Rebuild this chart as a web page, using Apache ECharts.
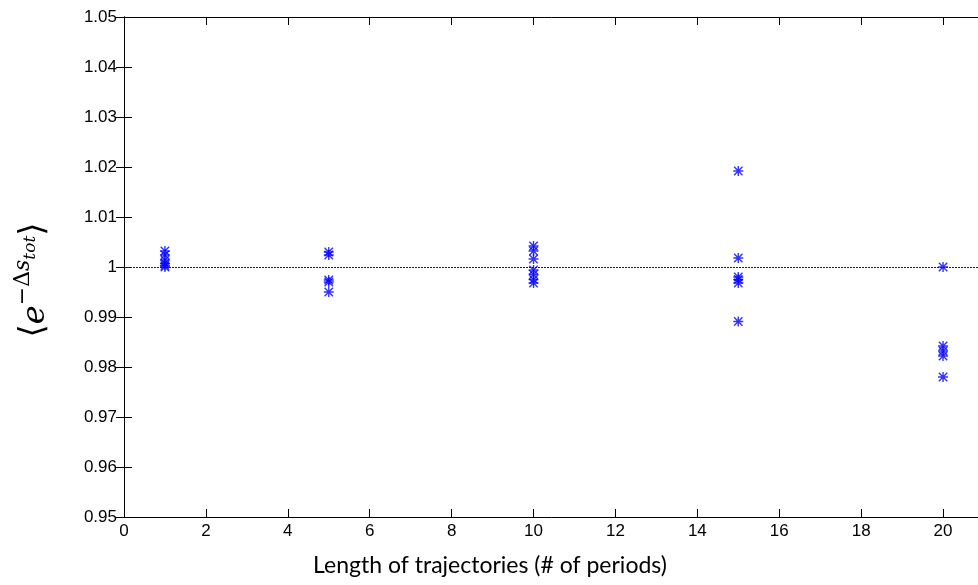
<!DOCTYPE html>
<html><head><meta charset="utf-8">
<script src="https://cdn.jsdelivr.net/npm/echarts@6/dist/echarts.min.js"></script>
<style>html,body{margin:0;padding:0;background:#fff}#c{width:978px;height:585px}</style>
</head><body><div id="c"></div>
<script>
// Data
var lengths = [1, 5, 10, 15, 20];
var valuesL1 = [1.0032, 1.0024, 1.0014, 1.0007, 1.0003, 1.0000];
var valuesL5 = [1.0030, 1.0024, 0.9974, 0.9970, 0.9950];
var valuesL10 = [1.0042, 1.0032, 1.0016, 0.9994, 0.9985, 0.9975, 0.9968];
var valuesL15 = [1.0192, 1.0018, 0.9980, 0.9975, 0.9968, 0.9891];
var valuesL20 = [1.0000, 0.9842, 0.9832, 0.9822, 0.9780];
var referenceValue = 1;
var xLabel = 'Length of trajectories (# of periods)';

var groups = [valuesL1, valuesL5, valuesL10, valuesL15, valuesL20];
var points = [];
groups.forEach(function (g, i) { g.forEach(function (v) { points.push([lengths[i], v]); }); });

var star = 'path://M0 4.3L10 4.3L10 5.7L0 5.7Z M4.3 0L5.7 0L5.7 10L4.3 10Z M1.3 0.3L9.7 8.7L8.7 9.7L0.3 1.3Z M8.7 0.3L9.7 1.3L1.3 9.7L0.3 8.7Z';

var axisCommon = {
  axisLine: { show: true, lineStyle: { color: '#000', width: 1 } },
  axisTick: { show: true, inside: true, length: 8, lineStyle: { color: '#000' } },
  splitLine: { show: false }
};
var chart = echarts.init(document.getElementById('c'), null, { renderer: 'canvas' });
chart.setOption({
  animation: false,
  backgroundColor: '#fff',
  grid: { left: 124, width: 860, top: 17, bottom: 68, containLabel: false, outerBoundsMode: 'none' },
  xAxis: [
    Object.assign({ type: 'value', min: 0, max: 21, interval: 2, position: 'bottom',
      axisLabel: { color: '#000', fontFamily: 'Liberation Sans', fontSize: 17, margin: 6,
        formatter: function (v) { return v > 20 ? '' : v; } } }, axisCommon),
    Object.assign({ type: 'value', min: 0, max: 21, interval: 2, position: 'top',
      axisLabel: { show: false } }, axisCommon)
  ],
  yAxis: [
    Object.assign({ type: 'value', min: 0.95, max: 1.05, interval: 0.01, position: 'left',
      axisLabel: { color: '#000', fontFamily: 'Liberation Sans', fontSize: 17, margin: 7,
        formatter: function (v) { return +v.toFixed(2) + ''; } } }, axisCommon),
    Object.assign({ type: 'value', min: 0.95, max: 1.05, interval: 0.01, position: 'right',
      axisLabel: { show: false } }, axisCommon)
  ],
  series: [{
    type: 'scatter',
    data: points,
    symbol: star,
    symbolSize: 10,
    itemStyle: { color: '#0000ff' },
    markLine: {
      silent: true, symbol: 'none', label: { show: false },
      lineStyle: { color: '#222', width: 1, type: [2, 1] },
      data: [{ yAxis: referenceValue }]
    },
    z: 3
  }],
  graphic: [{
    type: 'text',
    x: 490, y: 566,
    style: { text: xLabel, align: 'center', verticalAlign: 'middle', fill: '#000',
      fontFamily: 'Lato', fontSize: 23 }
  }, {
    type: 'text',
    x: 32, y: 280, rotation: Math.PI / 2,
    style: {
      text: '{a|⟨}{e|e}{sup|−Δ}{s|s}{t|tot}{a|⟩}',
      align: 'center', verticalAlign: 'middle',
      fill: '#000',
      rich: {
        a: { fontFamily: 'DejaVu Serif', fontSize: 34, verticalAlign: 'bottom', fill: '#000' },
        e: { fontFamily: 'DejaVu Serif', fontStyle: 'italic', fontSize: 32, verticalAlign: 'bottom', fill: '#000' },
        sup: { fontFamily: 'DejaVu Serif', fontSize: 22, verticalAlign: 'bottom', padding: [0, 0, 17, 0], fill: '#000' },
        s: { fontFamily: 'DejaVu Serif', fontStyle: 'italic', fontSize: 22, verticalAlign: 'bottom', padding: [0, 0, 17, 0], fill: '#000' },
        t: { fontFamily: 'DejaVu Serif', fontStyle: 'italic', fontSize: 17, verticalAlign: 'bottom', padding: [0, 0, 12, 0], fill: '#000' }
      }
    }
  }]
});
</script></body></html>
